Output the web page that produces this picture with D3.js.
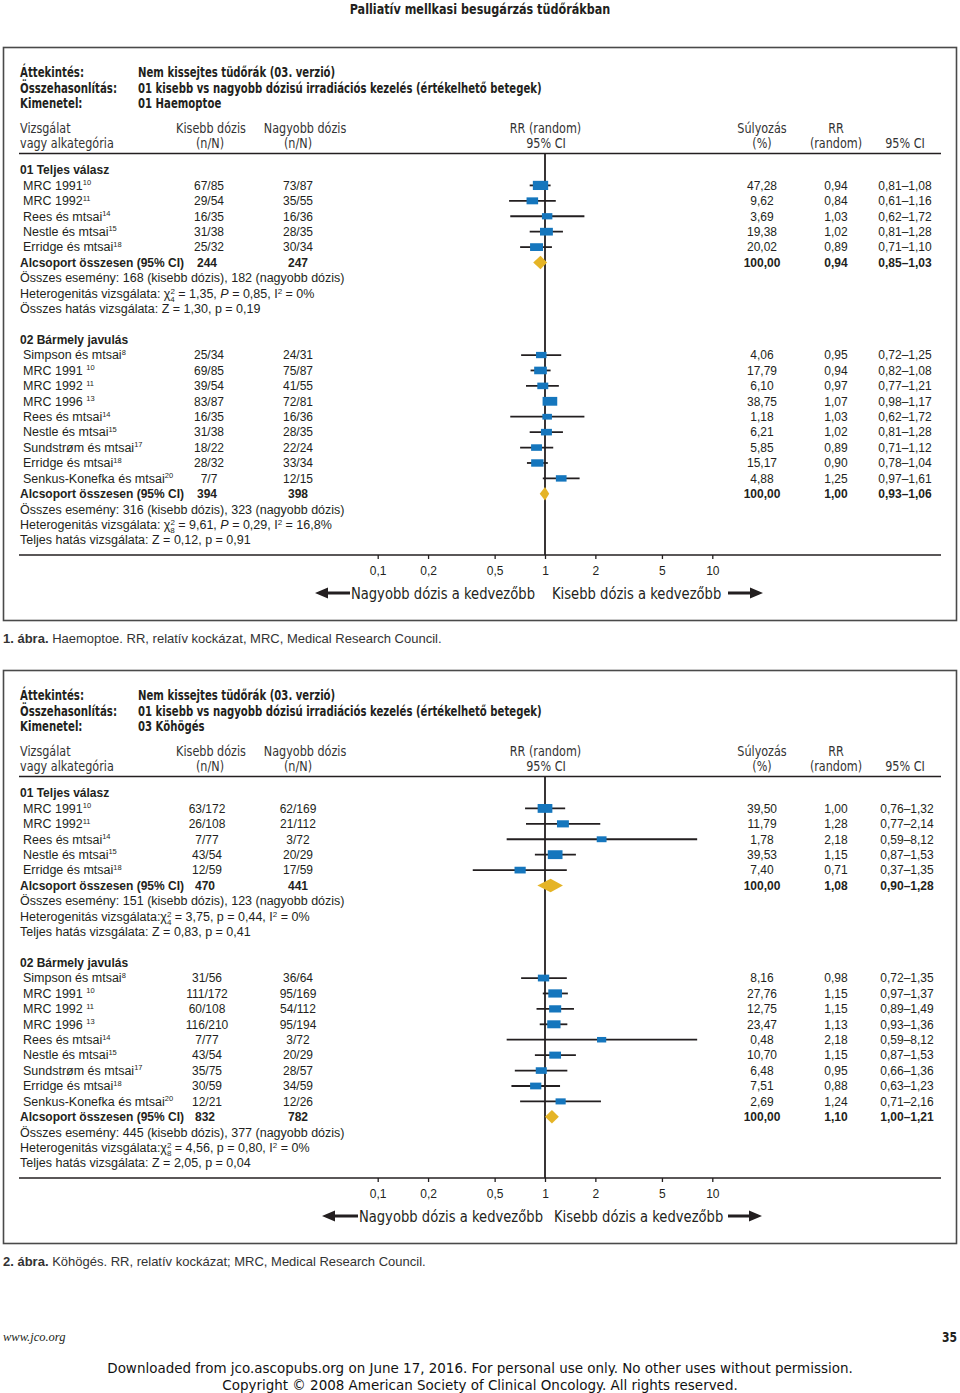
<!DOCTYPE html>
<html><head><meta charset="utf-8">
<script src="https://cdn.jsdelivr.net/npm/d3@7"></script>
<style>body{margin:0;background:#fff}svg{display:block}</style>
</head><body>
<script>
// ---------------- DATA ----------------
const axisTicks = [0.1, 0.2, 0.5, 1, 2, 5, 10];
const axisTickLabels = ["0,1", "0,2", "0,5", "1", "2", "5", "10"];

const pageTitle = "Palliatív mellkasi besugárzás tüdőrákban";
const headerLabels = ["Áttekintés:", "Összehasonlítás:", "Kimenetel:"];
const headerValues1 = ["Nem kissejtes tüdőrák (03. verzió)", "01 kisebb vs nagyobb dózisú irradiációs kezelés (értékelhető betegek)", "01 Haemoptoe"];
const headerValues2 = ["Nem kissejtes tüdőrák (03. verzió)", "01 kisebb vs nagyobb dózisú irradiációs kezelés (értékelhető betegek)", "03 Köhögés"];
const groupTitles = ["01 Teljes válasz", "02 Bármely javulás"];
const leftFavours = "Nagyobb dózis a kedvezőbb";
const rightFavours = "Kisebb dózis a kedvezőbb";

// Panel 1 / group 1 : Haemoptoe – Teljes válasz
const h1Names = ["MRC 1991", "MRC 1992", "Rees és mtsai", "Nestle és mtsai", "Erridge és mtsai"];
const h1Refs = ["10", "11", "14", "15", "18"];
const h1Lower = ["67/85", "29/54", "16/35", "31/38", "25/32"];
const h1Higher = ["73/87", "35/55", "16/36", "28/35", "30/34"];
const h1Weight = [47.28, 9.62, 3.69, 19.38, 20.02];
const h1RR = [0.94, 0.84, 1.03, 1.02, 0.89];
const h1Lo = [0.81, 0.61, 0.62, 0.81, 0.71];
const h1Hi = [1.08, 1.16, 1.72, 1.28, 1.10];
const h1Totals = ["244", "247"];
const h1Pooled = [0.94, 0.85, 1.03];
const h1Stats = ["Összes esemény: 168 (kisebb dózis), 182 (nagyobb dózis)",
  "Heterogenitás vizsgálata: χ{^2}{_4} = 1,35, {iP} = 0,85, I{^2} = 0%",
  "Összes hatás vizsgálata: Z = 1,30, p = 0,19"];

// Panel 1 / group 2 : Haemoptoe – Bármely javulás
const h2Names = ["Simpson és mtsai", "MRC 1991 ", "MRC 1992 ", "MRC 1996 ", "Rees és mtsai", "Nestle és mtsai", "Sundstrøm és mtsai", "Erridge és mtsai", "Senkus-Konefka és mtsai"];
const h2Refs = ["8", "10", "11", "13", "14", "15", "17", "18", "20"];
const h2Lower = ["25/34", "69/85", "39/54", "83/87", "16/35", "31/38", "18/22", "28/32", "7/7"];
const h2Higher = ["24/31", "75/87", "41/55", "72/81", "16/36", "28/35", "22/24", "33/34", "12/15"];
const h2Weight = [4.06, 17.79, 6.10, 38.75, 1.18, 6.21, 5.85, 15.17, 4.88];
const h2RR = [0.95, 0.94, 0.97, 1.07, 1.03, 1.02, 0.89, 0.90, 1.25];
const h2Lo = [0.72, 0.82, 0.77, 0.98, 0.62, 0.81, 0.71, 0.78, 0.97];
const h2Hi = [1.25, 1.08, 1.21, 1.17, 1.72, 1.28, 1.12, 1.04, 1.61];
const h2Totals = ["394", "398"];
const h2Pooled = [1.00, 0.93, 1.06];
const h2Stats = ["Összes esemény: 316 (kisebb dózis), 323 (nagyobb dózis)",
  "Heterogenitás vizsgálata: χ{^2}{_8} = 9,61, {iP} = 0,29, I{^2} = 16,8%",
  "Teljes hatás vizsgálata: Z = 0,12, p = 0,91"];

// Panel 2 / group 1 : Köhögés – Teljes válasz
const k1Names = ["MRC 1991", "MRC 1992", "Rees és mtsai", "Nestle és mtsai", "Erridge és mtsai"];
const k1Refs = ["10", "11", "14", "15", "18"];
const k1Lower = ["63/172", "26/108", "7/77", "43/54", "12/59"];
const k1Higher = ["62/169", "21/112", "3/72", "20/29", "17/59"];
const k1Weight = [39.50, 11.79, 1.78, 39.53, 7.40];
const k1RR = [1.00, 1.28, 2.18, 1.15, 0.71];
const k1Lo = [0.76, 0.77, 0.59, 0.87, 0.37];
const k1Hi = [1.32, 2.14, 8.12, 1.53, 1.35];
const k1Totals = ["470", "441"];
const k1Pooled = [1.08, 0.90, 1.28];
const k1Stats = ["Összes esemény: 151 (kisebb dózis), 123 (nagyobb dózis)",
  "Heterogenitás vizsgálata:χ{^2}{_4} = 3,75, p = 0,44, I{^2} = 0%",
  "Teljes hatás vizsgálata: Z = 0,83, p = 0,41"];

// Panel 2 / group 2 : Köhögés – Bármely javulás
const k2Names = ["Simpson és mtsai", "MRC 1991 ", "MRC 1992 ", "MRC 1996 ", "Rees és mtsai", "Nestle és mtsai", "Sundstrøm és mtsai", "Erridge és mtsai", "Senkus-Konefka és mtsai"];
const k2Refs = ["8", "10", "11", "13", "14", "15", "17", "18", "20"];
const k2Lower = ["31/56", "111/172", "60/108", "116/210", "7/77", "43/54", "35/75", "30/59", "12/21"];
const k2Higher = ["36/64", "95/169", "54/112", "95/194", "3/72", "20/29", "28/57", "34/59", "12/26"];
const k2Weight = [8.16, 27.76, 12.75, 23.47, 0.48, 10.70, 6.48, 7.51, 2.69];
const k2RR = [0.98, 1.15, 1.15, 1.13, 2.18, 1.15, 0.95, 0.88, 1.24];
const k2Lo = [0.72, 0.97, 0.89, 0.93, 0.59, 0.87, 0.66, 0.63, 0.71];
const k2Hi = [1.35, 1.37, 1.49, 1.36, 8.12, 1.53, 1.36, 1.23, 2.16];
const k2Totals = ["832", "782"];
const k2Pooled = [1.10, 1.00, 1.21];
const k2Stats = ["Összes esemény: 445 (kisebb dózis), 377 (nagyobb dózis)",
  "Heterogenitás vizsgálata:χ{^2}{_8} = 4,56, p = 0,80, I{^2} = 0%",
  "Teljes hatás vizsgálata: Z = 2,05, p = 0,04"];

const captions = [
  ["1. ábra.", " Haemoptoe. RR, relatív kockázat, MRC, Medical Research Council."],
  ["2. ábra.", " Köhögés. RR, relatív kockázat; MRC, Medical Research Council."]
];
const footerLeft = "www.jco.org";
const footerPage = "35";
const footerLines = ["Downloaded from jco.ascopubs.org on June 17, 2016. For personal use only. No other uses without permission.",
  "Copyright © 2008 American Society of Clinical Oncology. All rights reserved."];

// ---------------- RENDER ----------------
const FONT = "'Liberation Sans', Arial, Helvetica, sans-serif";
const COND = "'DejaVu Sans Condensed', 'DejaVu Sans', sans-serif";
const INK = "#231f20";
const BLUE = "#1576bd";
const GOLD = "#e5b426";

const svg = d3.select("body").append("svg").attr("width", 960).attr("height", 1393)
  .style("font-family", FONT);

const x = d3.scaleLog().domain([0.1, 10]).range([377.7, 712.3]);
const boxW = d3.scaleSqrt().domain([0, 50]).range([8.5, 15.5]);
const comma = v => d3.format(".2f")(v).replace(".", ",");

// condensed text helper (horizontal squeeze emulating a condensed face)
function cond(parent, px, py, str, o) {
  return parent.append("text")
    .attr("transform", `translate(${px},${py}) scale(${o.sx},1)`)
    .attr("text-anchor", o.anchor || "start")
    .style("font-family", COND).style("font-size", o.size + "px")
    .style("font-weight", o.weight || "normal")
    .attr("fill", o.fill || INK).text(str);
}

cond(svg, 480, 13.5, pageTitle, { size: 13.5, weight: "bold", sx: 0.924, anchor: "middle" });

function rich(sel, str) {
  const re = /\{([\^_i])([^}]*)\}/g;
  let last = 0, m, off = 0;
  const add = (t, type) => {
    const ts = sel.append("tspan").text(t);
    if (type === "^") { ts.attr("dy", -4 - off).style("font-size", "8px"); off = -4; }
    else if (type === "_") { ts.attr("dy", 4 - off).attr("dx", -4.5).style("font-size", "8px"); off = 4; }
    else { if (off !== 0) { ts.attr("dy", -off); off = 0; } if (type === "i") ts.style("font-style", "italic"); }
  };
  while ((m = re.exec(str)) !== null) {
    if (m.index > last) add(str.slice(last, m.index), null);
    add(m[2], m[1]);
    last = re.lastIndex;
  }
  if (last < str.length) add(str.slice(last), null);
}

function drawPanel(top, headerValues, groups, cfg) {
  const g = svg.append("g").attr("transform", `translate(0,${top})`).attr("fill", INK);
  g.append("rect").attr("x", 3.5).attr("y", 0.5).attr("width", 953).attr("height", 573)
    .attr("fill", "none").attr("stroke", "#4a4a4a").attr("stroke-width", 1.6);

  // header block
  const hy = [30, 46, 61];
  headerLabels.forEach((t, i) => {
    cond(g, 20, hy[i], t, { size: 13.5, weight: "bold", sx: 0.84 });
    cond(g, 138, hy[i], headerValues[i], { size: 13.5, weight: "bold", sx: 0.835 });
  });

  // column headers
  const c1 = 86, c2 = 101;
  const chO = { size: 14, sx: 0.89, fill: "#333" };
  const chM = { size: 14, sx: 0.89, fill: "#333", anchor: "middle" };
  cond(g, 20, c1, "Vizsgálat", chO);
  cond(g, 20, c2, "vagy alkategória", chO);
  cond(g, 211, c1, "Kisebb dózis", chM);
  cond(g, 210, c2, "(n/N)", chM);
  cond(g, 305, c1, "Nagyobb dózis", chM);
  cond(g, 298, c2, "(n/N)", chM);
  cond(g, 545.5, c1, "RR (random)", chM);
  cond(g, 546, c2, "95% CI", chM);
  cond(g, 762, c1, "Súlyozás", chM);
  cond(g, 762, c2, "(%)", chM);
  cond(g, 836, c1, "RR", chM);
  cond(g, 836, c2, "(random)", chM);
  cond(g, 905, c2, "95% CI", chM);

  g.append("line").attr("x1", 19).attr("x2", 941).attr("y1", 106.5).attr("y2", 106.5)
    .attr("stroke", INK).attr("stroke-width", 1.5);

  const axisY = 508;
  g.append("line").attr("x1", x(1)).attr("x2", x(1)).attr("y1", 106.5).attr("y2", axisY)
    .attr("stroke", INK).attr("stroke-width", 1.8);

  const step = 15.42, y0 = 123;
  const rowY = i => y0 + i * step;
  const base = i => rowY(i) + 4.3;
  let idx = 0;
  groups.forEach((grp, gi) => {
    if (gi > 0) idx += 1;
    g.append("text").attr("x", 20).attr("y", base(idx)).style("font-size", "12px")
      .style("font-weight", "bold").text(groupTitles[gi]);
    idx++;
    grp.names.forEach((nm, k) => {
      const yy = base(idx);
      const t = g.append("text").attr("x", 23).attr("y", yy).style("font-size", "12.5px").text(nm);
      t.append("tspan").attr("dy", -4.5).style("font-size", "7.5px").text(grp.refs[k]);
      g.append("text").attr("x", cfg.colA).attr("y", yy).attr("text-anchor", "middle").style("font-size", "12px").text(grp.lower[k]);
      g.append("text").attr("x", cfg.colB).attr("y", yy).attr("text-anchor", "middle").style("font-size", "12px").text(grp.higher[k]);
      g.append("text").attr("x", 762).attr("y", yy).attr("text-anchor", "middle").style("font-size", "12px").text(comma(grp.weight[k]));
      g.append("text").attr("x", 836).attr("y", yy).attr("text-anchor", "middle").style("font-size", "12px").text(comma(grp.rr[k]));
      g.append("text").attr("x", cfg.colCI).attr("y", yy).attr("text-anchor", "middle").style("font-size", "12px")
        .text(comma(grp.lo[k]) + "–" + comma(grp.hi[k]));
      const cy = rowY(idx);
      g.append("line").attr("x1", x(grp.lo[k])).attr("x2", x(grp.hi[k])).attr("y1", cy).attr("y2", cy)
        .attr("stroke", INK).attr("stroke-width", 1.8);
      const w = boxW(grp.weight[k]), h = w * 0.6;
      g.append("rect").attr("x", x(grp.rr[k]) - w / 2).attr("y", cy - h / 2).attr("width", w).attr("height", h)
        .attr("fill", BLUE);
      idx++;
    });
    const yy = base(idx), cy = rowY(idx);
    const sub = g.append("g").style("font-size", "12px").style("font-weight", "bold");
    sub.append("text").attr("x", 20).attr("y", yy).text("Alcsoport összesen (95% CI)");
    sub.append("text").attr("x", cfg.colA - 2).attr("y", yy).attr("text-anchor", "middle").text(grp.totals[0]);
    sub.append("text").attr("x", cfg.colB).attr("y", yy).attr("text-anchor", "middle").text(grp.totals[1]);
    sub.append("text").attr("x", 762).attr("y", yy).attr("text-anchor", "middle").text(comma(100));
    sub.append("text").attr("x", 836).attr("y", yy).attr("text-anchor", "middle").text(comma(grp.pooled[0]));
    sub.append("text").attr("x", cfg.colCI).attr("y", yy).attr("text-anchor", "middle")
      .text(comma(grp.pooled[1]) + "–" + comma(grp.pooled[2]));
    const dh = 6.8;
    g.append("path").attr("fill", GOLD).attr("d",
      `M${x(grp.pooled[1])},${cy} L${x(grp.pooled[0])},${cy - dh} L${x(grp.pooled[2])},${cy} L${x(grp.pooled[0])},${cy + dh} Z`);
    idx++;
    grp.stats.forEach(s => {
      const t = g.append("text").attr("x", 20).attr("y", base(idx)).style("font-size", "12.5px");
      rich(t, s);
      idx++;
    });
  });

  // axis
  g.append("line").attr("x1", 19).attr("x2", 941).attr("y1", axisY).attr("y2", axisY)
    .attr("stroke", INK).attr("stroke-width", 1.5);
  const ax = g.append("g").attr("transform", `translate(0,${axisY})`)
    .call(d3.axisBottom(x).tickValues(axisTicks).tickFormat((d, i) => axisTickLabels[i]).tickSize(4).tickPadding(7));
  ax.select(".domain").remove();
  ax.selectAll(".tick line").attr("stroke", INK).attr("stroke-width", 1.3);
  ax.selectAll(".tick text").attr("fill", INK).style("font-size", "12px").style("font-family", FONT);

  // favours
  const fy = 546;
  cond(g, cfg.leftEnd, fy + 6, leftFavours, { size: 16.5, sx: 0.886, anchor: "end" });
  cond(g, cfg.rightStart, fy + 6, rightFavours, { size: 16.5, sx: 0.886 });
  const la = cfg.arrowL, ra = cfg.arrowR;
  g.append("path").attr("fill", INK).attr("d",
    `M${la[0]},${fy} L${la[0] + 13},${fy - 5.5} L${la[0] + 13},${fy - 1.6} L${la[1]},${fy - 1.6} L${la[1]},${fy + 1.6} L${la[0] + 13},${fy + 1.6} L${la[0] + 13},${fy + 5.5} Z`);
  g.append("path").attr("fill", INK).attr("d",
    `M${ra[1]},${fy} L${ra[1] - 13},${fy - 5.5} L${ra[1] - 13},${fy - 1.6} L${ra[0]},${fy - 1.6} L${ra[0]},${fy + 1.6} L${ra[1] - 13},${fy + 1.6} L${ra[1] - 13},${fy + 5.5} Z`);

  // caption
  const cap = g.append("text").attr("x", 3).attr("y", 596).style("font-size", "13px").attr("fill", "#333");
  cap.append("tspan").style("font-weight", "bold").text(cfg.caption[0]);
  cap.append("tspan").text(cfg.caption[1]);
}

const mk = (names, refs, lower, higher, weight, rr, lo, hi, totals, pooled, stats) =>
  ({ names, refs, lower, higher, weight, rr, lo, hi, totals, pooled, stats });

drawPanel(47, headerValues1, [
  mk(h1Names, h1Refs, h1Lower, h1Higher, h1Weight, h1RR, h1Lo, h1Hi, h1Totals, h1Pooled, h1Stats),
  mk(h2Names, h2Refs, h2Lower, h2Higher, h2Weight, h2RR, h2Lo, h2Hi, h2Totals, h2Pooled, h2Stats)
], { colA: 209, colB: 298, colCI: 905, leftEnd: 535, rightStart: 552, arrowL: [315, 350], arrowR: [728, 763], caption: captions[0] });

drawPanel(670, headerValues2, [
  mk(k1Names, k1Refs, k1Lower, k1Higher, k1Weight, k1RR, k1Lo, k1Hi, k1Totals, k1Pooled, k1Stats),
  mk(k2Names, k2Refs, k2Lower, k2Higher, k2Weight, k2RR, k2Lo, k2Hi, k2Totals, k2Pooled, k2Stats)
], { colA: 207, colB: 298, colCI: 907, leftEnd: 543, rightStart: 554, arrowL: [322, 358], arrowR: [728, 762], caption: captions[1] });

// footer
svg.append("text").attr("x", 3).attr("y", 1341).style("font-family", "'Liberation Serif', 'Times New Roman', serif")
  .style("font-style", "italic").style("font-size", "12.5px").attr("fill", INK).text(footerLeft);
cond(svg, 957, 1342, footerPage, { size: 14, weight: "bold", sx: 0.86, anchor: "end" });
cond(svg, 480, 1373, footerLines[0], { size: 14, sx: 1.07, anchor: "middle", fill: "#111" });
cond(svg, 480, 1389.5, footerLines[1], { size: 14, sx: 1.07, anchor: "middle", fill: "#111" });
</script>
</body></html>
